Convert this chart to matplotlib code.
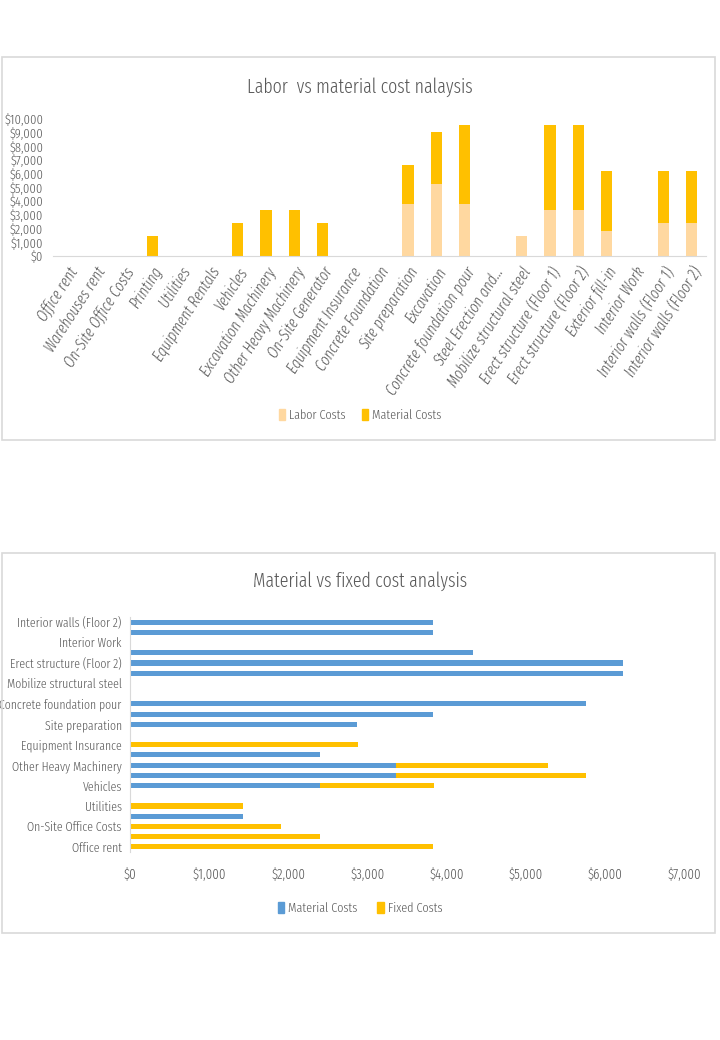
import matplotlib
matplotlib.use("Agg")
import matplotlib.pyplot as plt
from matplotlib.patches import Rectangle, Patch
from matplotlib.ticker import FuncFormatter, MultipleLocator
import numpy as np

plt.rcParams['font.family'] = ['Fira Sans Extra Condensed', 'Carlito', 'DejaVu Sans']
plt.rcParams['font.weight'] = 300

categories = ["Office rent", "Warehouses rent", "On-Site Office Costs", "Printing", "Utilities",
              "Equipment Rentals", "Vehicles", "Excavation Machinery", "Other Heavy Machinery",
              "On-Site Generator", "Equipment Insurance", "Concrete Foundation", "Site preparation",
              "Excavation", "Concrete foundation pour", "Steel Erection and...",
              "Mobilize structural steel", "Erect structure (Floor 1)", "Erect structure (Floor 2)",
              "Exterior fill-in", "Interior Work", "Interior walls (Floor 1)", "Interior walls (Floor 2)"]

labor_costs = [0, 0, 0, 0, 0, 0, 0, 0, 0, 0, 0, 0,
               3800, 5250, 3800, 0, 1430, 3330, 3330, 1850, 0, 2400, 2400]
material_costs = [0, 0, 0, 1430, 0, 0, 2400, 3360, 3360, 2400, 0, 0,
                  2870, 3830, 5760, 0, 0, 6230, 6230, 4330, 0, 3830, 3830]
fixed_costs = [3830, 2400, 1910, 0, 1430, 0, 1440, 2400, 1920, 0, 2880, 0,
               0, 0, 0, 0, 0, 0, 0, 0, 0, 0, 0]

bottom_labels = ["Office rent", "", "On-Site Office Costs", "", "Utilities", "", "Vehicles", "",
                 "Other Heavy Machinery", "", "Equipment Insurance", "", "Site preparation", "",
                 "Concrete foundation pour", "", "Mobilize structural steel", "",
                 "Erect structure (Floor 2)", "", "Interior Work", "", "Interior walls (Floor 2)"]

title_top = "Labor  vs material cost nalaysis"
title_bottom = "Material vs fixed cost analysis"

W, H = 720, 1040
fig = plt.figure(figsize=(W / 100, H / 100), dpi=100)

TXT = '#595959'
LABOR = '#FFD8A0'
GOLD = '#FFC000'
BLUE = '#5B9BD5'
GRID = '#D9D9D9'


def px_axes(x0, y0, x1, y1):
    return fig.add_axes([x0 / W, 1 - y1 / H, (x1 - x0) / W, (y1 - y0) / H])


# chart boxes
for (x0, y0, x1, y1) in [(2, 57, 715, 440), (2, 553, 715, 933)]:
    fig.patches.append(Rectangle((x0 / W, 1 - y1 / H), (x1 - x0) / W, (y1 - y0) / H,
                                 transform=fig.transFigure, facecolor='none',
                                 edgecolor=GRID, linewidth=1.2, zorder=0))

money = FuncFormatter(lambda v, p: "${:,.0f}".format(v))

# ---------- Top chart ----------
ax1 = px_axes(53, 119, 706, 256)
ax1.patch.set_alpha(0)
x = np.arange(len(categories))
ax1.bar(x, labor_costs, width=0.4, color=LABOR, label='Labor Costs')
ax1.bar(x, material_costs, width=0.4, bottom=labor_costs, color=GOLD, label='Material Costs')
ax1.set_xlim(-0.5, len(categories) - 0.5)
ax1.set_ylim(0, 10000)
ax1.yaxis.set_major_locator(MultipleLocator(1000))
ax1.yaxis.set_major_formatter(money)
ax1.set_xticks(x)
ax1.set_xticklabels(categories, rotation=57, ha='right', rotation_mode='anchor',
                    fontstyle='italic', fontsize=11.3, color=TXT)
for s in ['top', 'right', 'left']:
    ax1.spines[s].set_visible(False)
ax1.spines['bottom'].set_color(GRID)
ax1.tick_params(axis='both', length=0, colors=TXT)
ax1.tick_params(axis='y', labelsize=9.8, pad=7)
ax1.tick_params(axis='x', pad=6)
fig.text(360 / W, 1 - 87 / H, title_top, ha='center', va='center', fontsize=14, color=TXT)
fig.legend(handles=[Patch(color=LABOR, label='Labor Costs'), Patch(color=GOLD, label='Material Costs')],
           loc='center', bbox_to_anchor=(360 / W, 1 - 415 / H), ncol=2, frameon=False,
           fontsize=9.5, labelcolor=TXT, handlelength=0.5, handleheight=0.9,
           handletextpad=0.3, columnspacing=1.2)

# ---------- Bottom chart ----------
ax2 = px_axes(130, 617, 684, 852)
ax2.patch.set_alpha(0)
y = np.arange(len(categories))
ax2.barh(y, material_costs, height=0.5, color=BLUE, label='Material Costs')
ax2.barh(y, fixed_costs, height=0.5, left=material_costs, color=GOLD, label='Fixed Costs')
ax2.set_ylim(-0.5, len(categories) - 0.5)
ax2.set_xlim(0, 7000)
ax2.xaxis.set_major_locator(MultipleLocator(1000))
ax2.xaxis.set_major_formatter(money)
ax2.set_yticks(y)
ax2.set_yticklabels(bottom_labels, fontsize=9.2, color=TXT)
for s in ['top', 'right', 'bottom']:
    ax2.spines[s].set_visible(False)
ax2.spines['left'].set_color(GRID)
ax2.tick_params(axis='both', length=0, colors=TXT)
ax2.tick_params(axis='x', labelsize=10, pad=11)
ax2.tick_params(axis='y', pad=6)
fig.text(360 / W, 1 - 581 / H, title_bottom, ha='center', va='center', fontsize=14, color=TXT)
fig.legend(handles=[Patch(color=BLUE, label='Material Costs'), Patch(color=GOLD, label='Fixed Costs')],
           loc='center', bbox_to_anchor=(360 / W, 1 - 908 / H), ncol=2, frameon=False,
           fontsize=9.5, labelcolor=TXT, handlelength=0.5, handleheight=0.9,
           handletextpad=0.3, columnspacing=1.5)

fig.savefig('out.png', dpi=100, facecolor='white')
